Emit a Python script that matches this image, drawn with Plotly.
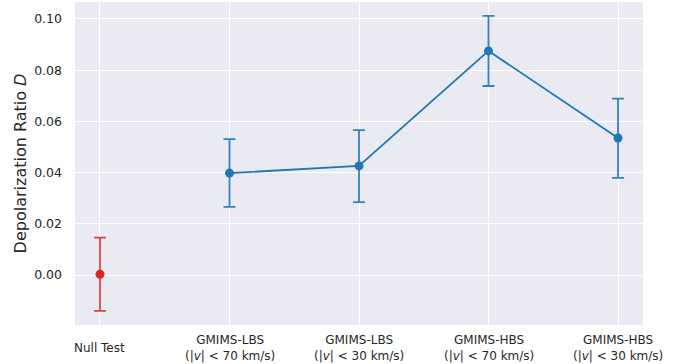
import plotly.graph_objects as go

categories = ["Null Test", "GMIMS-LBS<br>(|<i>v</i>| < 70 km/s)", "GMIMS-LBS<br>(|<i>v</i>| < 30 km/s)",
              "GMIMS-HBS<br>(|<i>v</i>| < 70 km/s)", "GMIMS-HBS<br>(|<i>v</i>| < 30 km/s)"]
null_x = [0]
null_val = [0.0003]
null_err = [0.0143]
gm_x = [1, 2, 3, 4]
gm_val = [0.0398, 0.0426, 0.0875, 0.0535]
gm_err_plus = [0.0133, 0.0140, 0.0137, 0.0154]
gm_err_minus = [0.0132, 0.0141, 0.0137, 0.0156]
yticks = [0.00, 0.02, 0.04, 0.06, 0.08, 0.10]

RED = "#d62728"
BLUE = "#1f77b4"

fig = go.Figure()
fig.add_trace(go.Scatter(
    x=null_x, y=null_val, mode="markers",
    marker=dict(color=RED, size=9),
    error_y=dict(type="data", array=null_err, color="rgba(214,39,40,0.85)", thickness=1.8, width=6),
    showlegend=False))
fig.add_trace(go.Scatter(
    x=gm_x, y=gm_val, mode="lines+markers",
    line=dict(color=BLUE, width=1.8),
    marker=dict(color=BLUE, size=9),
    error_y=dict(type="data", symmetric=False, array=gm_err_plus, arrayminus=gm_err_minus,
                 color="rgba(31,119,180,0.9)", thickness=1.8, width=6),
    showlegend=False))

annotations = []
for i, c in enumerate(categories):
    annotations.append(dict(x=i, y=0, xref="x", yref="paper", yshift=-23, text=c, showarrow=False,
                            xanchor="center", yanchor="middle",
                            font=dict(family="DejaVu Sans", size=12, color="#262626")))

fig.update_layout(
    width=685, height=364,
    margin=dict(l=75, r=42, t=2, b=39),
    paper_bgcolor="white",
    plot_bgcolor="#eaeaf2",
    font=dict(family="DejaVu Sans", size=12, color="#262626"),
    annotations=annotations,
    xaxis=dict(range=[-0.193, 4.193], tickvals=[0, 1, 2, 3, 4], showticklabels=False, automargin=False,
               showgrid=True, gridcolor="white", gridwidth=1.3, zeroline=False, showline=False),
    yaxis=dict(range=[-0.0195, 0.1066], tickvals=yticks, tickformat=".2f", automargin=False,
               showgrid=True, gridcolor="white", gridwidth=1.3, zeroline=False, showline=False,
               ticks="", ticklabelstandoff=12,
               title=dict(text="Depolarization Ratio <i>D</i>", font=dict(size=16, color="#262626"), standoff=3),
               tickfont=dict(size=12.5, color="#262626")),
)

fig.write_html("out.html", config={"displayModeBar": False},
               post_script="document.body.style.margin='0';document.body.style.overflow='hidden';")
